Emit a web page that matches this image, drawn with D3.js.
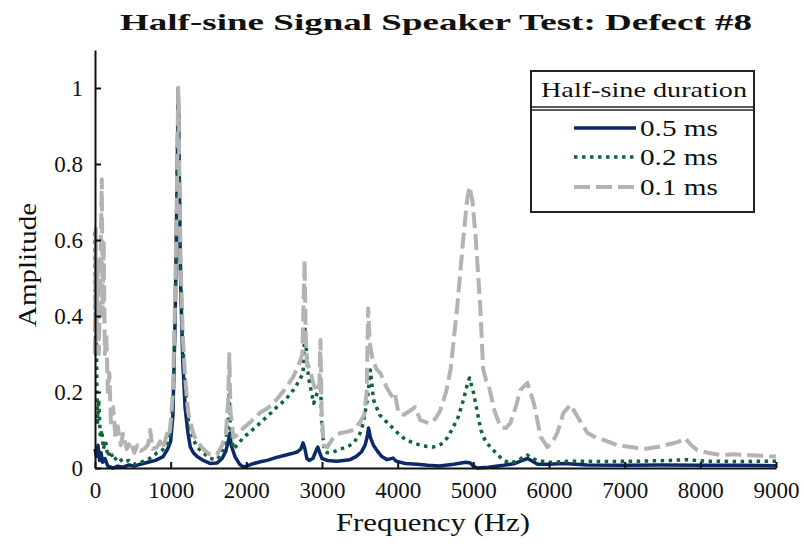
<!DOCTYPE html>
<html>
<head>
<meta charset="utf-8">
<script src="https://cdn.jsdelivr.net/npm/d3@7"></script>
<style>
  body { margin: 0; background: #fff; }
  text { font-family: "Liberation Serif", "DejaVu Serif", serif; fill: #111; }
</style>
</head>
<body>
<script>
const w = 804;
const h = 550;
const margin = { top: 50, right: 28, bottom: 82, left: 95 };

// 0.5 ms half-sine (solid navy)
const freq05 = [0, 20, 40, 60, 80, 100, 130, 170, 240, 300, 370, 450, 520, 600, 700, 800, 900, 960, 1000, 1030, 1060, 1080, 1100, 1110, 1130, 1160, 1190, 1230, 1260, 1300, 1350, 1430, 1520, 1610, 1680, 1730, 1760, 1785, 1800, 1850, 1910, 1960, 2000, 2100, 2200, 2275, 2400, 2500, 2600, 2670, 2720, 2750, 2775, 2800, 2830, 2880, 2920, 2945, 2970, 3000, 3070, 3200, 3370, 3450, 3520, 3570, 3600, 3615, 3640, 3680, 3730, 3790, 3860, 3940, 3980, 4100, 4260, 4400, 4550, 4740, 4900, 4960, 5000, 5050, 5200, 5400, 5550, 5650, 5715, 5780, 5850, 6000, 6200, 6500, 7000, 7500, 8000, 8500, 9000];
const amp05 = [0.05, 0.03, 0.06, 0.02, 0.04, 0.015, 0.025, 0.005, 0.0, 0.005, 0.002, 0.008, 0.005, 0.01, 0.015, 0.02, 0.03, 0.05, 0.07, 0.14, 0.4, 0.68, 1.0, 0.84, 0.5, 0.28, 0.16, 0.09, 0.055, 0.04, 0.03, 0.02, 0.012, 0.013, 0.025, 0.045, 0.07, 0.092, 0.06, 0.03, 0.01, 0.003, 0.005, 0.012, 0.017, 0.02, 0.028, 0.033, 0.038, 0.042, 0.05, 0.066, 0.05, 0.025, 0.02, 0.025, 0.045, 0.055, 0.04, 0.025, 0.02, 0.018, 0.022, 0.03, 0.042, 0.06, 0.085, 0.105, 0.08, 0.06, 0.045, 0.03, 0.022, 0.026, 0.018, 0.012, 0.01, 0.007, 0.005, 0.01, 0.015, 0.013, 0.005, 0.0, 0.002, 0.007, 0.012, 0.02, 0.025, 0.018, 0.01, 0.01, 0.012, 0.008, 0.007, 0.008, 0.007, 0.007, 0.006];

// 0.2 ms half-sine (dotted green)
const freq02 = [0, 8, 15, 25, 35, 50, 70, 90, 110, 140, 170, 200, 250, 300, 370, 450, 520, 600, 680, 760, 820, 880, 950, 1000, 1030, 1060, 1080, 1100, 1110, 1130, 1160, 1190, 1230, 1260, 1300, 1350, 1430, 1520, 1610, 1680, 1730, 1760, 1775, 1790, 1830, 1900, 1960, 2050, 2180, 2300, 2400, 2520, 2620, 2700, 2750, 2775, 2795, 2820, 2860, 2890, 2940, 2965, 2980, 2995, 3030, 3070, 3150, 3240, 3330, 3415, 3500, 3545, 3600, 3640, 3680, 3760, 3860, 4000, 4100, 4210, 4330, 4470, 4570, 4660, 4740, 4800, 4870, 4920, 4950, 5000, 5050, 5100, 5160, 5226, 5320, 5400, 5490, 5600, 5660, 5715, 5780, 5850, 6000, 6300, 6700, 7200, 7600, 7800, 8100, 8500, 9000];
const amp02 = [0.62, 0.3, 0.45, 0.2, 0.12, 0.18, 0.08, 0.1, 0.05, 0.07, 0.03, 0.045, 0.02, 0.03, 0.015, 0.02, 0.01, 0.015, 0.02, 0.03, 0.04, 0.045, 0.06, 0.09, 0.17, 0.42, 0.68, 1.0, 0.84, 0.53, 0.33, 0.22, 0.13, 0.1, 0.075, 0.055, 0.04, 0.025, 0.022, 0.04, 0.07, 0.12, 0.2, 0.1, 0.05, 0.065, 0.08, 0.095, 0.118, 0.14, 0.16, 0.18, 0.205, 0.23, 0.25, 0.37, 0.3, 0.24, 0.2, 0.17, 0.2, 0.22, 0.24, 0.12, 0.045, 0.04, 0.042, 0.05, 0.055, 0.065, 0.09, 0.118, 0.18, 0.258, 0.18, 0.14, 0.12, 0.092, 0.075, 0.066, 0.058, 0.055, 0.062, 0.08, 0.11, 0.134, 0.18, 0.22, 0.237, 0.2, 0.15, 0.1, 0.07, 0.055, 0.035, 0.02, 0.013, 0.02, 0.03, 0.034, 0.025, 0.02, 0.015, 0.018, 0.017, 0.018, 0.02, 0.022, 0.018, 0.017, 0.018];

// 0.1 ms half-sine (dashed grey)
const freq01 = [0, 10, 20, 35, 50, 70, 90, 100, 115, 130, 150, 170, 190, 210, 240, 270, 300, 340, 370, 420, 470, 520, 560, 600, 650, 700, 730, 760, 820, 860, 900, 950, 980, 1000, 1030, 1060, 1080, 1100, 1110, 1130, 1160, 1190, 1230, 1260, 1300, 1350, 1430, 1520, 1610, 1680, 1730, 1760, 1775, 1790, 1830, 1900, 1960, 2050, 2180, 2300, 2400, 2520, 2620, 2700, 2740, 2770, 2785, 2800, 2850, 2890, 2940, 2965, 2980, 2995, 3020, 3070, 3150, 3240, 3330, 3415, 3500, 3560, 3590, 3610, 3630, 3665, 3720, 3770, 3860, 3920, 3960, 4010, 4080, 4160, 4230, 4300, 4380, 4430, 4500, 4560, 4640, 4700, 4790, 4870, 4920, 4950, 4990, 5030, 5090, 5130, 5170, 5200, 5280, 5360, 5430, 5490, 5560, 5620, 5715, 5800, 5890, 5980, 6050, 6110, 6190, 6285, 6380, 6510, 6620, 6720, 6900, 7080, 7250, 7430, 7600, 7700, 7800, 7880, 7960, 8100, 8270, 8450, 8620, 8800, 8970, 9000];
const amp01 = [0.3, 0.63, 0.35, 0.55, 0.3, 0.5, 0.76, 0.4, 0.6, 0.3, 0.35, 0.2, 0.25, 0.12, 0.16, 0.08, 0.11, 0.06, 0.09, 0.05, 0.07, 0.04, 0.06, 0.045, 0.05, 0.06, 0.1, 0.05, 0.055, 0.07, 0.05, 0.09, 0.08, 0.12, 0.2, 0.45, 0.7, 1.0, 0.85, 0.55, 0.35, 0.24, 0.15, 0.12, 0.09, 0.07, 0.05, 0.035, 0.035, 0.06, 0.09, 0.18, 0.3, 0.15, 0.08, 0.09, 0.105, 0.12, 0.145, 0.16, 0.18, 0.21, 0.24, 0.275, 0.3, 0.547, 0.35, 0.28, 0.25, 0.22, 0.2, 0.22, 0.337, 0.15, 0.06, 0.055, 0.08, 0.092, 0.095, 0.1, 0.12, 0.14, 0.2, 0.42, 0.33, 0.29, 0.26, 0.25, 0.21, 0.19, 0.2, 0.145, 0.14, 0.15, 0.16, 0.126, 0.12, 0.118, 0.13, 0.15, 0.2, 0.26, 0.43, 0.61, 0.71, 0.74, 0.7, 0.61, 0.43, 0.26, 0.23, 0.22, 0.15, 0.108, 0.105, 0.118, 0.16, 0.205, 0.224, 0.17, 0.082, 0.055, 0.07, 0.092, 0.145, 0.166, 0.134, 0.092, 0.08, 0.074, 0.06, 0.055, 0.05, 0.055, 0.063, 0.068, 0.078, 0.06, 0.047, 0.04, 0.034, 0.036, 0.034, 0.032, 0.03, 0.03];

const seriesNames = ["0.5 ms", "0.2 ms", "0.1 ms"];
const xTicks = [0, 1000, 2000, 3000, 4000, 5000, 6000, 7000, 8000, 9000];
const yTicks = [0, 0.2, 0.4, 0.6, 0.8, 1];

const styles = [
	{ color: "#0c2a6a", width: 3.5, dash: null },
	{ color: "#12643b", width: 3.5, dash: "3.5,4.5" },
	{ color: "#b3b3b3", width: 4, dash: "16,6" },
];

const series = [
	freq05.map((f, i) => [f, amp05[i]]),
	freq02.map((f, i) => [f, amp02[i]]),
	freq01.map((f, i) => [f, amp01[i]]),
];

const xScale = d3.scaleLinear().domain([0, 9000]).range([margin.left, 776]);
const yScale = d3.scaleLinear().domain([0, 1.1]).range([h - margin.bottom, margin.top]);

const svg = d3.select("body").append("svg").attr("width", w).attr("height", h);

const line = d3.line().x((d) => xScale(d[0])).y((d) => yScale(d[1]));

// Lines: 0.5 ms at the bottom, 0.1 ms on top
series.forEach((s, i) => {
	svg
		.append("path")
		.datum(s)
		.attr("fill", "none")
		.attr("stroke", styles[i].color)
		.attr("stroke-width", styles[i].width)
		.attr("stroke-linejoin", "round")
		.attr("stroke-dasharray", styles[i].dash);
});
svg.selectAll("path").attr("d", line);

// Axes, ticks inward
const xAxis = d3.axisBottom(xScale).tickValues(xTicks).tickSizeInner(-6).tickSizeOuter(0).tickPadding(14).tickFormat(d3.format("d"));
const yAxis = d3
	.axisLeft(yScale)
	.tickValues(yTicks)
	.tickSizeInner(-6)
	.tickSizeOuter(0)
	.tickPadding(12)
	.tickFormat((d) => (d === 0 || d === 1 ? String(d) : d3.format(".1f")(d)));

const gx = svg.append("g").attr("transform", `translate(0, ${h - margin.bottom})`).call(xAxis);
const gy = svg.append("g").attr("transform", `translate(${margin.left}, 0)`).call(yAxis);

[gx, gy].forEach((g) => {
	g.attr("font-family", null);
	g.select(".domain").attr("stroke", "#111").attr("stroke-width", 2);
	g.selectAll(".tick line").attr("stroke", "#111").attr("stroke-width", 2);
	g.selectAll(".tick text").style("font-size", "23px").attr("fill", "#111");
});
gy.selectAll(".tick text").attr("dy", "0.34em");

// Title and axis labels
svg
	.append("text")
	.attr("x", 436)
	.attr("y", 30)
	.attr("text-anchor", "middle")
	.style("font-size", "24px")
	.style("font-weight", "bold")
	.attr("textLength", 632)
	.attr("lengthAdjust", "spacingAndGlyphs")
	.text("Half-sine Signal Speaker Test: Defect #8");

svg
	.append("text")
	.attr("x", 433)
	.attr("y", 531)
	.attr("text-anchor", "middle")
	.style("font-size", "25px")
	.attr("textLength", 194)
	.attr("lengthAdjust", "spacingAndGlyphs")
	.text("Frequency (Hz)");

svg
	.append("text")
	.attr("transform", "rotate(-90)")
	.attr("x", -265)
	.attr("y", 36)
	.attr("text-anchor", "middle")
	.style("font-size", "25px")
	.attr("textLength", 124)
	.attr("lengthAdjust", "spacingAndGlyphs")
	.text("Amplitude");

// Legend
const legend = svg.append("g");
legend.append("rect").attr("x", 531).attr("y", 71).attr("width", 223).attr("height", 141).attr("fill", "#fff").attr("stroke", "#222").attr("stroke-width", 2);
legend.append("line").attr("x1", 531).attr("x2", 754).attr("y1", 107).attr("y2", 107).attr("stroke", "#222").attr("stroke-width", 1.5);
legend.append("line").attr("x1", 531).attr("x2", 754).attr("y1", 110).attr("y2", 110).attr("stroke", "#222").attr("stroke-width", 1.5);
legend
	.append("text")
	.attr("x", 644)
	.attr("y", 97)
	.attr("text-anchor", "middle")
	.style("font-size", "22px")
	.attr("textLength", 206)
	.attr("lengthAdjust", "spacingAndGlyphs")
	.text("Half-sine duration");

const rowY = [128, 157, 187];
seriesNames.forEach((name, i) => {
	legend
		.append("line")
		.attr("x1", 574)
		.attr("x2", 636)
		.attr("y1", rowY[i])
		.attr("y2", rowY[i])
		.attr("stroke", styles[i].color)
		.attr("stroke-width", styles[i].width)
		.attr("stroke-dasharray", styles[i].dash);
	legend
		.append("text")
		.attr("x", 640)
		.attr("y", rowY[i] + 8)
		.style("font-size", "23px")
		.attr("textLength", 78)
		.attr("lengthAdjust", "spacingAndGlyphs")
		.text(name);
});
</script>
</body>
</html>
